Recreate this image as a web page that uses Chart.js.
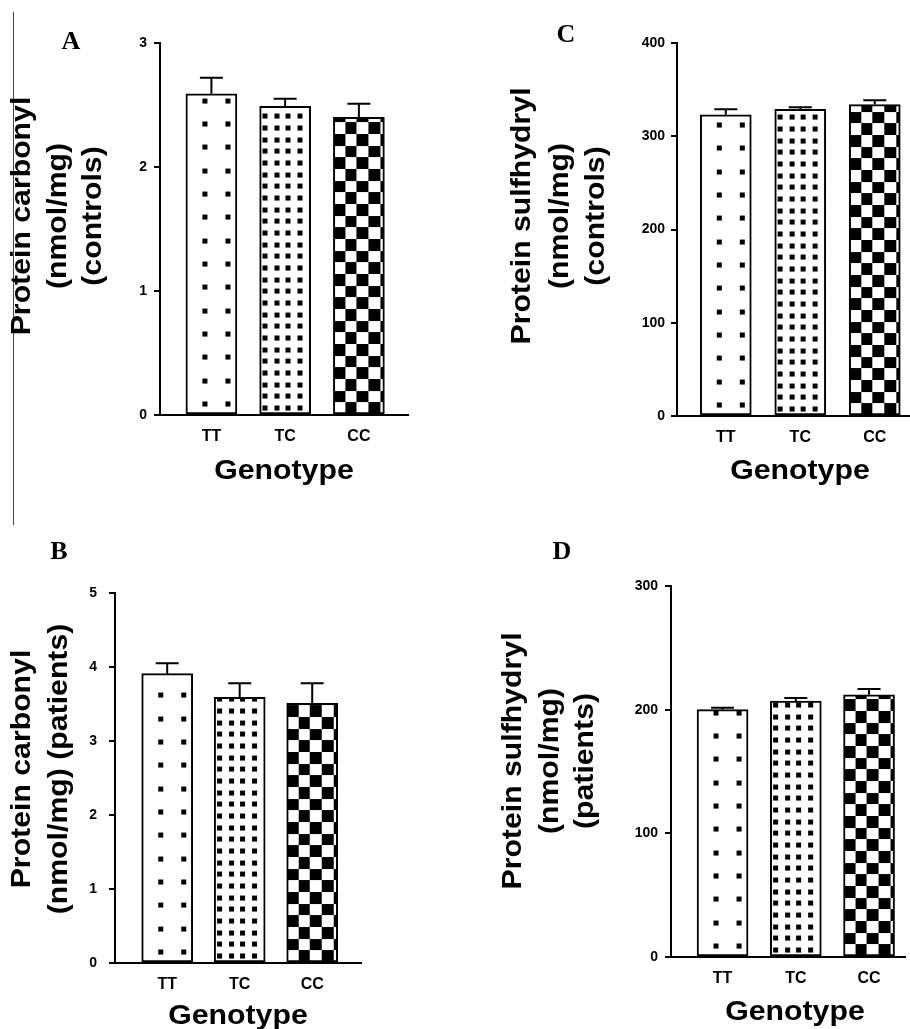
<!DOCTYPE html>
<html>
<head>
<meta charset="utf-8">
<script src="https://cdn.jsdelivr.net/npm/chart.js@4.4.1/dist/chart.umd.min.js"></script>
<style>
  html, body { margin: 0; padding: 0; background: #fff; }
  #page { position: relative; width: 910px; height: 1029px; overflow: hidden; }
  #page canvas { position: absolute; }
  #edge { position: absolute; left: 13px; top: 12px; width: 1px; height: 513px; background: #444; }
</style>
</head>
<body>
<div id="page">
  <div id="edge"></div>
  <canvas id="panelA" width="455" height="515" style="left:0px;top:0px"></canvas>
  <canvas id="panelC" width="455" height="515" style="left:455px;top:0px"></canvas>
  <canvas id="panelB" width="455" height="514" style="left:0px;top:515px"></canvas>
  <canvas id="panelD" width="455" height="514" style="left:455px;top:515px"></canvas>
</div>
<script>
// values (bar = mean, whisker = upper SEM)
const genotypes = ["TT", "TC", "CC"];

const carbonylControls = [2.59, 2.49, 2.40];
const carbonylControlsSem = [0.13, 0.06, 0.11];
const carbonylControlsTicks = [0, 1, 2, 3];

const carbonylPatients = [3.91, 3.59, 3.51];
const carbonylPatientsSem = [0.14, 0.19, 0.27];
const carbonylPatientsTicks = [0, 1, 2, 3, 4, 5];

const sulfhydrylControls = [323, 329, 334];
const sulfhydrylControlsSem = [6, 2, 4.5];
const sulfhydrylControlsTicks = [0, 100, 200, 300, 400];

const sulfhydrylPatients = [200, 207, 212];
const sulfhydrylPatientsSem = [1.6, 2.4, 4.8];
const sulfhydrylPatientsTicks = [0, 100, 200, 300];

const fillKinds = ["tt", "tc", "cc"];
const patternOffsets = { tt: [16.5, -12.5], tc: [2.8, -8.5], cc: [0, 0] };

const sans = "'Liberation Sans', Arial, Helvetica, sans-serif";
const serif = "'Liberation Serif', 'Times New Roman', serif";

// small tiles for the Prism-style fills
function makeTile(kind) {
  const c = document.createElement("canvas");
  const s = kind === "tc" ? 35 : 70;
  c.width = s;
  c.height = s;
  const g = c.getContext("2d");
  g.fillStyle = "#fff";
  g.fillRect(0, 0, s, s);
  g.fillStyle = "#000";
  if (kind === "tt") {
    const p = [0, 23, 47];
    p.forEach((x) => p.forEach((y) => g.fillRect(x, y, 5, 5)));
  } else if (kind === "tc") {
    const p = [0, 12, 23];
    p.forEach((x) => p.forEach((y) => g.fillRect(x, y, 5, 5)));
  } else {
    const b = [0, 12, 23, 35, 47, 58, 70];
    for (let i = 0; i < 6; i++) {
      for (let j = 0; j < 6; j++) {
        if ((i + j) % 2 === 0) g.fillRect(b[i], b[j], b[i + 1] - b[i], b[j + 1] - b[j]);
      }
    }
  }
  return c;
}

const barDecor = {
  id: "barDecor",
  beforeDatasetsDraw(chart) {
    const meta = chart.getDatasetMeta(0);
    const bg = chart.data.datasets[0].backgroundColor;
    meta.data.forEach((bar, i) => {
      const [ox, oy] = patternOffsets[fillKinds[i]];
      bg[i].setTransform(new DOMMatrix().translate(bar.x - bar.width / 2 + ox, bar.base + oy));
    });
  },
  afterDatasetsDraw(chart) {
    const ctx = chart.ctx;
    const yScale = chart.scales.y;
    const ds = chart.data.datasets[0];
    const meta = chart.getDatasetMeta(0);
    ctx.save();
    ctx.strokeStyle = "#000";
    ctx.lineWidth = 2;
    meta.data.forEach((bar, i) => {
      const top = yScale.getPixelForValue(ds.data[i].y + ds.errors[i]);
      ctx.beginPath();
      ctx.moveTo(bar.x, bar.y);
      ctx.lineTo(bar.x, top);
      ctx.moveTo(bar.x - 11.5, top);
      ctx.lineTo(bar.x + 11.5, top);
      ctx.stroke();
    });
    ctx.restore();
  },
  afterDraw(chart, args, opts) {
    const ctx = chart.ctx;
    const ox = opts.origin[0];
    const oy = opts.origin[1];
    ctx.save();
    ctx.fillStyle = "#000";
    ctx.textAlign = "center";
    ctx.textBaseline = "middle";

    // panel letter
    ctx.font = "bold 26px " + serif;
    ctx.fillText(opts.letter.text, opts.letter.x - ox, opts.letter.y - oy);

    // y title, rotated, one column per line
    ctx.font = "bold 27px " + sans;
    opts.yTitle.lines.forEach((line, i) => {
      ctx.save();
      ctx.translate(opts.yTitle.xs[i] - ox, opts.yTitle.y - oy);
      ctx.rotate(-Math.PI / 2);
      ctx.scale(1.12, 1);
      ctx.fillText(line, 0, 0);
      ctx.restore();
    });

    // x title
    ctx.save();
    ctx.translate(opts.xTitle.x - ox, opts.xTitle.y - oy);
    ctx.scale(1.12, 1);
    ctx.fillText("Genotype", 0, 0);
    ctx.restore();
    ctx.restore();
  },
};

function renderPanel(id, values, sem, yTicks, p) {
  const canvas = document.getElementById(id);
  const ctx = canvas.getContext("2d");
  const patterns = fillKinds.map((k) => ctx.createPattern(makeTile(k), "repeat"));
  const c = p.canvas;

  return new Chart(canvas, {
    type: "bar",
    data: {
      datasets: [
        {
          data: values.map((v, i) => ({ x: i + 1, y: v })),
          errors: sem,
          backgroundColor: patterns,
          borderColor: "#000",
          borderWidth: 2,
          borderSkipped: false,
          barThickness: 51,
        },
      ],
    },
    options: {
      responsive: false,
      devicePixelRatio: 1,
      animation: false,
      layout: {
        padding: {
          left: 0,
          top: p.axis.top - c.top,
          right: c.left + c.w - p.axis.right,
          bottom: 0,
        },
      },
      plugins: {
        legend: { display: false },
        tooltip: { enabled: false },
        barDecor: {
          origin: [c.left, c.top],
          letter: p.letter,
          yTitle: p.yTitle,
          xTitle: p.xTitle,
        },
      },
      scales: {
        x: {
          type: "linear",
          offset: false,
          min: p.xRange[0],
          max: p.xRange[1],
          afterBuildTicks: (scale) => {
            scale.ticks = genotypes.map((g, i) => ({ value: i + 1 }));
          },
          afterFit: (scale) => {
            scale.height = c.top + c.h - p.axis.bottom;
          },
          grid: { display: false, drawTicks: false, offset: false },
          border: { display: true, color: "#000", width: 2 },
          ticks: {
            padding: 12,
            color: "#000",
            font: { family: sans, size: 16, weight: "bold" },
            callback: (v) => genotypes[Math.round(v) - 1],
          },
        },
        y: {
          type: "linear",
          min: 0,
          max: yTicks[yTicks.length - 1],
          afterBuildTicks: (scale) => {
            scale.ticks = yTicks.map((v) => ({ value: v }));
          },
          afterFit: (scale) => {
            scale.width = p.axis.x - c.left;
          },
          grid: {
            drawOnChartArea: false,
            drawTicks: true,
            tickLength: 6,
            color: "#000",
            lineWidth: 2,
          },
          border: { display: true, color: "#000", width: 2 },
          ticks: {
            padding: p.tickPad,
            color: "#000",
            font: { family: sans, size: 14, weight: "bold" },
          },
        },
      },
    },
    plugins: [barDecor],
  });
}

renderPanel("panelA", carbonylControls, carbonylControlsSem, carbonylControlsTicks, {
  canvas: { left: 0, top: 0, w: 455, h: 515 },
  axis: { x: 160, top: 43, bottom: 415, right: 408 },
  xRange: [0.303, 3.666],
  tickPad: 7,
  letter: { text: "A", x: 71, y: 42 },
  yTitle: { lines: ["Protein carbonyl", "(nmol/mg)", "(controls)"], xs: [23, 59, 94], y: 216 },
  xTitle: { x: 284, y: 472 },
});

renderPanel("panelC", sulfhydrylControls, sulfhydrylControlsSem, sulfhydrylControlsTicks, {
  canvas: { left: 455, top: 0, w: 455, h: 515 },
  axis: { x: 677, top: 43, bottom: 416, right: 910 },
  xRange: [0.345, 3.473],
  tickPad: 6,
  letter: { text: "C", x: 566, y: 35 },
  yTitle: { lines: ["Protein sulfhydryl", "(nmol/mg)", "(controls)"], xs: [523, 561, 597], y: 216 },
  xTitle: { x: 800, y: 472 },
});

renderPanel("panelB", carbonylPatients, carbonylPatientsSem, carbonylPatientsTicks, {
  canvas: { left: 0, top: 515, w: 455, h: 514 },
  axis: { x: 115, top: 593, bottom: 963, right: 361 },
  xRange: [0.28, 3.673],
  tickPad: 12,
  letter: { text: "B", x: 59, y: 552 },
  yTitle: { lines: ["Protein carbonyl", "(nmol/mg) (patients)"], xs: [23, 60], y: 769 },
  xTitle: { x: 238, y: 1017 },
});

renderPanel("panelD", sulfhydrylPatients, sulfhydrylPatientsSem, sulfhydrylPatientsTicks, {
  canvas: { left: 455, top: 515, w: 455, h: 514 },
  axis: { x: 671, top: 586, bottom: 957, right: 905 },
  xRange: [0.296, 3.491],
  tickPad: 7,
  letter: { text: "D", x: 562, y: 552 },
  yTitle: { lines: ["Protein sulfhydryl", "(nmol/mg)", "(patients)"], xs: [514, 551, 586], y: 761 },
  xTitle: { x: 795, y: 1013 },
});
</script>
</body>
</html>
